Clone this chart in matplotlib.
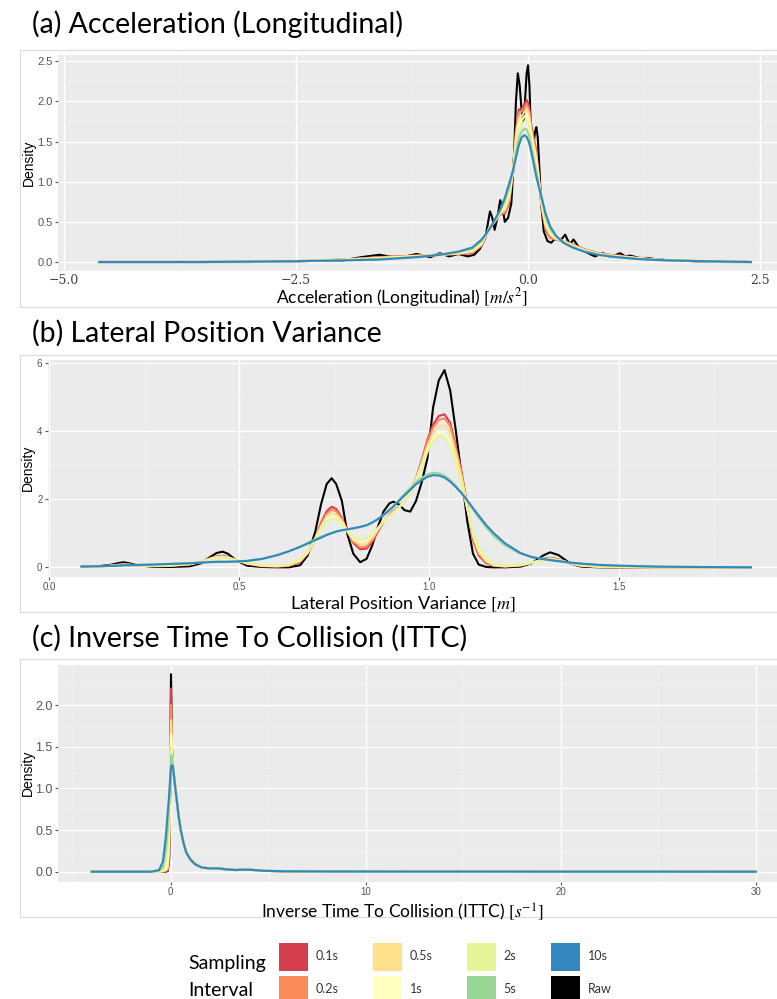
import numpy as np
import matplotlib.pyplot as plt
from matplotlib.patches import Rectangle
from matplotlib.ticker import MultipleLocator

plt.rcParams['mathtext.fontset'] = 'stix'

groups = ["0.1s", "0.2s", "0.5s", "1s", "2s", "5s", "10s", "Raw"]
colors = ["#D53E4F", "#FC8D59", "#FEE08B", "#FFFFBF", "#E6F598", "#99D594", "#3288BD", "#000000"]

# ---- (a) longitudinal acceleration ----
acc_x_raw = [-4.62, -4.0, -3.5, -3.0, -2.5, -2.0, -1.8, -1.6, -1.4, -1.2,
             -1.05, -0.95, -0.85, -0.75, -0.65, -0.58, -0.52, -0.46, -0.41, -0.385,
             -0.36, -0.33, -0.30, -0.275, -0.25, -0.215, -0.18, -0.15, -0.13, -0.11,
             -0.09, -0.07, -0.05, -0.03, -0.015, 0.0, 0.015, 0.03, 0.045, 0.06,
             0.075, 0.09, 0.105, 0.12, 0.14, 0.17, 0.21, 0.25, 0.30, 0.35,
             0.40, 0.45, 0.49, 0.55, 0.63, 0.72, 0.81, 0.88, 0.95, 0.99,
             1.05, 1.10, 1.20, 1.29, 1.40, 1.56, 1.80, 2.10, 2.40]
acc_raw = [0.0, 0.0, 0.0, 0.0, 0.01, 0.02, 0.06, 0.09, 0.05, 0.10,
           0.06, 0.11, 0.07, 0.10, 0.07, 0.09, 0.16, 0.30, 0.63, 0.55,
           0.40, 0.55, 0.77, 0.68, 0.50, 0.55, 0.73, 1.35, 2.00, 2.35,
           2.20, 1.90, 1.75, 2.05, 2.35, 2.45, 2.20, 1.65, 1.42, 1.48,
           1.62, 1.68, 1.55, 1.22, 0.75, 0.38, 0.26, 0.24, 0.30, 0.27,
           0.34, 0.22, 0.28, 0.18, 0.12, 0.07, 0.11, 0.07, 0.09, 0.11,
           0.07, 0.08, 0.05, 0.05, 0.03, 0.02, 0.01, 0.00, 0.00]

acc_x = [-4.62, -3.5, -2.5, -2.0, -1.6, -1.2, -0.95, -0.75, -0.6, -0.5,
         -0.42, -0.36, -0.30, -0.25, -0.2, -0.16, -0.13, -0.1, -0.07, -0.04,
         -0.015, 0.01, 0.035, 0.06, 0.09, 0.12, 0.15, 0.19, 0.24, 0.3,
         0.38, 0.48, 0.6, 0.75, 0.95, 1.2, 1.5, 1.9, 2.4]
acc_01 = [0, 0, 0.01, 0.03, 0.06, 0.08, 0.09, 0.10, 0.11, 0.20,
          0.42, 0.50, 0.60, 0.60, 0.75, 1.15, 1.65, 1.90, 1.90, 1.96,
          2.02, 1.95, 1.70, 1.55, 1.38, 1.02, 0.65, 0.40, 0.30, 0.28,
          0.26, 0.22, 0.16, 0.11, 0.08, 0.05, 0.02, 0.01, 0]
acc_02 = [0, 0, 0.01, 0.03, 0.06, 0.08, 0.09, 0.10, 0.12, 0.21,
          0.42, 0.50, 0.60, 0.62, 0.77, 1.15, 1.62, 1.86, 1.87, 1.92,
          1.97, 1.90, 1.67, 1.52, 1.35, 1.01, 0.66, 0.42, 0.31, 0.28,
          0.26, 0.22, 0.16, 0.11, 0.08, 0.05, 0.02, 0.01, 0]
acc_05 = [0, 0, 0.01, 0.03, 0.05, 0.075, 0.09, 0.11, 0.13, 0.22,
          0.42, 0.50, 0.61, 0.65, 0.81, 1.15, 1.56, 1.79, 1.81, 1.87,
          1.91, 1.84, 1.62, 1.47, 1.30, 1.00, 0.69, 0.45, 0.34, 0.29,
          0.26, 0.21, 0.15, 0.105, 0.075, 0.046, 0.02, 0.01, 0]
acc_1 = [0, 0, 0.01, 0.026, 0.048, 0.072, 0.09, 0.11, 0.14, 0.23,
         0.41, 0.51, 0.62, 0.68, 0.85, 1.15, 1.51, 1.72, 1.76, 1.81,
         1.84, 1.77, 1.57, 1.42, 1.25, 0.98, 0.71, 0.48, 0.36, 0.30,
         0.25, 0.20, 0.15, 0.10, 0.07, 0.044, 0.02, 0.01, 0]
acc_2 = [0, 0, 0.01, 0.025, 0.044, 0.069, 0.09, 0.117, 0.149, 0.244,
         0.41, 0.511, 0.628, 0.71, 0.88, 1.15, 1.46, 1.65, 1.71, 1.75,
         1.77, 1.70, 1.52, 1.37, 1.20, 0.97, 0.73, 0.51, 0.38, 0.31,
         0.25, 0.198, 0.143, 0.099, 0.069, 0.042, 0.02, 0.01, 0]
acc_5 = [0, 0, 0.01, 0.022, 0.036, 0.064, 0.09, 0.124, 0.166, 0.264,
         0.404, 0.516, 0.64, 0.76, 0.94, 1.15, 1.37, 1.54, 1.62, 1.66,
         1.65, 1.58, 1.44, 1.29, 1.12, 0.94, 0.76, 0.56, 0.41, 0.32,
         0.244, 0.188, 0.136, 0.094, 0.064, 0.038, 0.02, 0.01, 0]
acc_10 = [0, 0, 0.01, 0.02, 0.03, 0.06, 0.09, 0.13, 0.18, 0.28,
          0.40, 0.52, 0.65, 0.80, 0.99, 1.15, 1.30, 1.45, 1.55, 1.58,
          1.56, 1.49, 1.37, 1.23, 1.06, 0.92, 0.79, 0.60, 0.44, 0.33,
          0.24, 0.18, 0.13, 0.09, 0.06, 0.035, 0.02, 0.01, 0]

# ---- (b) lateral position variance ----
lpv_x = [0.085, 0.12, 0.16, 0.18, 0.195, 0.21, 0.23, 0.27, 0.32, 0.37,
         0.40, 0.42, 0.44, 0.456, 0.47, 0.49, 0.52, 0.56, 0.60, 0.63,
         0.66, 0.68, 0.70, 0.715, 0.73, 0.743, 0.755, 0.77, 0.785, 0.80,
         0.818, 0.835, 0.85, 0.865, 0.88, 0.895, 0.905, 0.92, 0.935, 0.95,
         0.965, 0.98, 0.995, 1.01, 1.025, 1.04, 1.055, 1.07, 1.085, 1.10,
         1.115, 1.13, 1.15, 1.17, 1.20, 1.24, 1.27, 1.30, 1.318, 1.34,
         1.37, 1.40, 1.45, 1.50, 1.60, 1.70, 1.846]
lpv_raw = [0.02, 0.02, 0.07, 0.12, 0.15, 0.12, 0.06, 0.02, 0.01, 0.03,
           0.12, 0.28, 0.42, 0.46, 0.40, 0.22, 0.05, 0.01, 0.00, 0.00,
           0.06, 0.35, 1.05, 1.85, 2.45, 2.62, 2.45, 1.95, 0.95, 0.40,
           0.15, 0.25, 0.65, 1.20, 1.65, 1.88, 1.93, 1.85, 1.68, 1.64,
           1.95, 2.50, 3.20, 4.70, 5.50, 5.80, 5.20, 4.00, 2.70, 1.35,
           0.40, 0.08, 0.01, 0.00, 0.00, 0.02, 0.12, 0.35, 0.44, 0.36,
           0.12, 0.02, 0.00, 0.00, 0.00, 0.00, 0.00]
lpv_01 = [0.01, 0.02, 0.05, 0.08, 0.09, 0.08, 0.06, 0.04, 0.04, 0.08,
          0.16, 0.25, 0.32, 0.34, 0.31, 0.22, 0.10, 0.03, 0.02, 0.04,
          0.15, 0.40, 0.85, 1.30, 1.65, 1.78, 1.72, 1.45, 1.05, 0.72,
          0.53, 0.55, 0.75, 1.05, 1.35, 1.55, 1.65, 1.78, 1.95, 2.20,
          2.60, 3.15, 3.75, 4.20, 4.45, 4.50, 4.25, 3.55, 2.80, 1.80,
          0.80, 0.35, 0.12, 0.04, 0.02, 0.05, 0.13, 0.25, 0.28, 0.24,
          0.12, 0.04, 0.01, 0.00, 0.00, 0.00, 0.00]
lpv_02 = [0.01, 0.02, 0.05, 0.07, 0.08, 0.08, 0.06, 0.04, 0.05, 0.09,
          0.16, 0.25, 0.31, 0.33, 0.30, 0.22, 0.11, 0.04, 0.03, 0.05,
          0.17, 0.42, 0.85, 1.25, 1.58, 1.70, 1.65, 1.42, 1.05, 0.76,
          0.59, 0.61, 0.80, 1.08, 1.36, 1.55, 1.64, 1.77, 1.95, 2.20,
          2.60, 3.12, 3.68, 4.10, 4.34, 4.38, 4.15, 3.48, 2.75, 1.80,
          0.85, 0.40, 0.15, 0.05, 0.03, 0.06, 0.13, 0.24, 0.27, 0.23,
          0.12, 0.05, 0.01, 0.00, 0.00, 0.00, 0.00]
lpv_05 = [0.01, 0.02, 0.04, 0.07, 0.08, 0.07, 0.06, 0.05, 0.05, 0.09,
          0.16, 0.24, 0.30, 0.31, 0.29, 0.22, 0.12, 0.05, 0.03, 0.06,
          0.19, 0.43, 0.85, 1.20, 1.50, 1.60, 1.55, 1.37, 1.05, 0.80,
          0.67, 0.70, 0.87, 1.12, 1.38, 1.53, 1.62, 1.76, 1.95, 2.20,
          2.58, 3.06, 3.57, 3.95, 4.15, 4.18, 3.95, 3.35, 2.65, 1.78,
          0.92, 0.46, 0.18, 0.06, 0.03, 0.06, 0.13, 0.23, 0.26, 0.22,
          0.12, 0.05, 0.02, 0.01, 0.00, 0.00, 0.00]
lpv_1 = [0.01, 0.02, 0.04, 0.06, 0.07, 0.07, 0.06, 0.05, 0.06, 0.10,
         0.17, 0.23, 0.28, 0.29, 0.27, 0.21, 0.12, 0.05, 0.04, 0.08,
         0.22, 0.45, 0.85, 1.15, 1.40, 1.49, 1.45, 1.30, 1.05, 0.85,
         0.76, 0.80, 0.95, 1.15, 1.35, 1.50, 1.60, 1.75, 1.95, 2.20,
         2.55, 3.00, 3.45, 3.80, 3.95, 3.92, 3.65, 3.10, 2.45, 1.70,
         1.00, 0.55, 0.22, 0.08, 0.04, 0.07, 0.14, 0.22, 0.24, 0.21,
         0.13, 0.06, 0.02, 0.01, 0.00, 0.00, 0.00]
lpv_2 = [0.01, 0.02, 0.04, 0.06, 0.07, 0.07, 0.06, 0.05, 0.06, 0.10,
         0.17, 0.23, 0.27, 0.28, 0.27, 0.21, 0.13, 0.06, 0.05, 0.09,
         0.24, 0.47, 0.85, 1.13, 1.36, 1.45, 1.42, 1.28, 1.06, 0.88,
         0.80, 0.83, 0.97, 1.16, 1.36, 1.50, 1.60, 1.75, 1.95, 2.20,
         2.53, 2.95, 3.38, 3.72, 3.86, 3.84, 3.58, 3.06, 2.45, 1.75,
         1.05, 0.60, 0.25, 0.10, 0.05, 0.08, 0.14, 0.21, 0.23, 0.20,
         0.13, 0.06, 0.02, 0.01, 0.00, 0.00, 0.00]
lpv_5 = [0.02, 0.03, 0.04, 0.05, 0.06, 0.06, 0.07, 0.08, 0.10, 0.12,
         0.14, 0.16, 0.17, 0.17, 0.17, 0.17, 0.18, 0.24, 0.35, 0.47,
         0.61, 0.72, 0.83, 0.90, 0.97, 1.02, 1.06, 1.09, 1.11, 1.14,
         1.18, 1.23, 1.31, 1.42, 1.55, 1.70, 1.80, 1.98, 2.16, 2.33,
         2.50, 2.63, 2.73, 2.78, 2.77, 2.70, 2.57, 2.39, 2.18, 1.95,
         1.70, 1.46, 1.17, 0.92, 0.64, 0.40, 0.30, 0.25, 0.22, 0.19,
         0.14, 0.10, 0.06, 0.04, 0.02, 0.01, 0.00]
lpv_10 = [0.02, 0.03, 0.04, 0.05, 0.06, 0.06, 0.07, 0.08, 0.10, 0.12,
          0.14, 0.15, 0.16, 0.16, 0.16, 0.17, 0.19, 0.25, 0.36, 0.47,
          0.60, 0.70, 0.80, 0.87, 0.95, 1.00, 1.05, 1.09, 1.12, 1.15,
          1.19, 1.24, 1.32, 1.42, 1.54, 1.68, 1.78, 1.95, 2.12, 2.28,
          2.44, 2.56, 2.66, 2.71, 2.70, 2.64, 2.52, 2.36, 2.18, 1.97,
          1.74, 1.52, 1.24, 1.00, 0.70, 0.42, 0.30, 0.24, 0.21, 0.18,
          0.14, 0.11, 0.07, 0.05, 0.02, 0.01, 0.00]

# ---- (c) inverse time to collision ----
ittc_x = [-4.05, -1.0, -0.6, -0.4, -0.25, -0.15, -0.08, -0.03, 0.0, 0.015,
          0.03, 0.06, 0.1, 0.15, 0.22, 0.3, 0.4, 0.5, 0.65, 0.8,
          1.0, 1.25, 1.6, 2.0, 2.4, 2.8, 3.3, 3.8, 4.3, 4.8,
          6.0, 8.0, 12.0, 16.0, 20.0, 25.0, 30.0]
ittc_tail = [0.88, 0.68, 0.52, 0.35, 0.23,
             0.15, 0.09, 0.05, 0.04, 0.04, 0.03, 0.02, 0.025, 0.02, 0.01,
             0.005, 0.003, 0.002, 0.002, 0.001, 0.001, 0.0]
ittc_raw = [0, 0, 0, 0, 0, 0.01, 0.15, 0.90, 1.90, 2.37,
            2.10, 1.50, 1.30, 1.18, 1.04] + ittc_tail
ittc_01 = [0, 0, 0, 0, 0, 0.02, 0.20, 0.90, 1.80, 2.20,
           2.00, 1.50, 1.30, 1.18, 1.04] + ittc_tail
ittc_02 = [0, 0, 0, 0, 0.01, 0.03, 0.25, 0.95, 1.70, 2.00,
           1.90, 1.50, 1.30, 1.18, 1.04] + ittc_tail
ittc_05 = [0, 0, 0, 0.01, 0.02, 0.05, 0.35, 1.00, 1.60, 1.82,
           1.78, 1.50, 1.30, 1.18, 1.04] + ittc_tail
ittc_1 = [0, 0, 0, 0.01, 0.04, 0.12, 0.45, 1.05, 1.50, 1.65,
          1.63, 1.45, 1.30, 1.18, 1.04] + ittc_tail
ittc_2 = [0, 0, 0, 0.02, 0.08, 0.25, 0.60, 1.10, 1.40, 1.50,
          1.49, 1.40, 1.30, 1.18, 1.04] + ittc_tail
ittc_5 = [0, 0, 0.01, 0.05, 0.25, 0.50, 0.80, 1.10, 1.30, 1.37,
          1.40, 1.37, 1.30, 1.18, 1.04] + ittc_tail
ittc_10 = [0, 0, 0.02, 0.12, 0.42, 0.72, 0.92, 1.10, 1.20, 1.24,
           1.26, 1.28, 1.27, 1.20, 1.03] + ittc_tail

W, H = 777, 999
fig = plt.figure(figsize=(W / 100, H / 100), dpi=100)


def box(l, t, r, b):
    return [l / W, 1 - b / H, (r - l) / W, (b - t) / H]


def style(ax, xlim, ylim, xmaj, xmin, ymaj, ymin, ysize, xsize):
    ax.set_facecolor("#EBEBEB")
    ax.set_xlim(xlim)
    ax.set_ylim(ylim)
    ax.xaxis.set_major_locator(MultipleLocator(xmaj))
    ax.xaxis.set_minor_locator(MultipleLocator(xmin))
    ax.yaxis.set_major_locator(MultipleLocator(ymaj))
    ax.yaxis.set_minor_locator(MultipleLocator(ymin))
    ax.grid(which="major", color="white", lw=1.0)
    ax.grid(which="minor", color="#F3F3F3", lw=0.5)
    ax.set_axisbelow(True)
    for s in ax.spines.values():
        s.set_visible(False)
    ax.tick_params(which="minor", length=0)
    ax.tick_params(which="major", length=2.5, width=0.8, color="#555555",
                   labelcolor="#555555", pad=1.5)
    for lab in ax.get_yticklabels():
        lab.set_fontfamily("Liberation Sans")
        lab.set_fontsize(ysize)
    for lab in ax.get_xticklabels():
        lab.set_fontfamily("Liberation Sans")
        lab.set_fontsize(xsize)


def frame(t, b):
    fig.add_artist(Rectangle((20 / W, 1 - b / H), 1, (b - t) / H, transform=fig.transFigure,
                             fill=False, edgecolor="#DADADA", lw=0.8))


title_font = dict(family="Lato", fontsize=20.5, color="black")
label_font = dict(family="Lato", fontsize=13, color="black")

# panel a
frame(50, 307)
fig.text(32 / W, 1 - 33 / H, "(a) Acceleration (Longitudinal)", ha="left", va="baseline", **title_font)
ax1 = fig.add_axes(box(58, 55, 777, 271))
ax1.plot(acc_x_raw, acc_raw, color=colors[7], lw=1.5)
for y, c in zip([acc_01, acc_02, acc_05, acc_1, acc_2, acc_5, acc_10], colors[:7]):
    ax1.plot(acc_x, y, color=c, lw=1.5)
style(ax1, (-5.065, 2.683), (-0.112, 2.578), 2.5, 1.25, 0.5, 0.25, 8, 9)
ax1.set_xticks([-5, -2.5, 0, 2.5])
ax1.set_xticklabels(["\u22125.0", "\u22122.5", "0.0", "2.5"], family="DejaVu Serif",
                    fontsize=9, color="#404040")
ax1.tick_params(axis="x", length=0, pad=2)
fig.text(29 / W, 1 - 163 / H, "Density", rotation=90, ha="center", va="center",
         family="Liberation Sans", fontsize=10)
fig.text(402 / W, 1 - 298 / H, "Acceleration (Longitudinal) $[m/s^2]$", ha="center", va="center",
         family="Lato", fontsize=12.5, color="black")

# panel b
frame(355, 612)
fig.text(32 / W, 1 - 342 / H, "(b) Lateral Position Variance", ha="left", va="baseline", **title_font)
ax2 = fig.add_axes(box(48, 360, 777, 576.7))
ax2.plot(lpv_x, lpv_raw, color=colors[7], lw=1.5)
for y, c in zip([lpv_01, lpv_02, lpv_05, lpv_1, lpv_2, lpv_5, lpv_10], colors[:7]):
    ax2.plot(lpv_x, y, color=c, lw=1.5)
style(ax2, (-0.0034, 1.915), (-0.276, 6.097), 0.5, 0.25, 2, 1, 7, 7)
fig.text(28 / W, 1 - 468 / H, "Density", rotation=90, ha="center", va="center",
         family="Liberation Sans", fontsize=10)
fig.text(403 / W, 1 - 604 / H, "Lateral Position Variance $[m]$", ha="center", va="center",
         **label_font)

# panel c
frame(659, 917)
fig.text(32 / W, 1 - 647 / H, "(c) Inverse Time To Collision (ITTC)", ha="left", va="baseline", **title_font)
ax3 = fig.add_axes(box(58.3, 665, 777, 881.7))
ax3.plot(ittc_x, ittc_raw, color=colors[7], lw=1.5)
for y, c in zip([ittc_01, ittc_02, ittc_05, ittc_1, ittc_2, ittc_5, ittc_10], colors[:7]):
    ax3.plot(ittc_x, y, color=c, lw=1.5)
style(ax3, (-5.764, 31.09), (-0.12, 2.481), 10, 5, 0.5, 0.25, 9, 7)
fig.text(28 / W, 1 - 773 / H, "Density", rotation=90, ha="center", va="center",
         family="Liberation Sans", fontsize=10)
fig.text(402 / W, 1 - 912 / H, "Inverse Time To Collision (ITTC) $[s^{-1}]$", ha="center", va="center",
         family="Lato", fontsize=12.5, color="black")

# legend
fig.text(188 / W, 1 - 963 / H, "Sampling", ha="left", va="center", family="Lato", fontsize=14)
fig.text(188 / W, 1 - 990 / H, "Interval", ha="left", va="center", family="Lato", fontsize=14)
key_x = [279, 372.7, 466.7, 551]
lab_x = [316, 410, 503, 588]
key_y = [943, 976]
for i, (g, c) in enumerate(zip(groups, colors)):
    col, row = i // 2, i % 2
    fig.add_artist(Rectangle((key_x[col] / W, 1 - (key_y[row] + 28) / H), 29 / W, 28 / H,
                             transform=fig.transFigure, facecolor=c, edgecolor="none"))
    fig.text(lab_x[col] / W, 1 - (key_y[row] + 13) / H, g, ha="left", va="center",
             family="Lato", fontsize=9, color="#333333")

fig.savefig("out.png", dpi=100)
